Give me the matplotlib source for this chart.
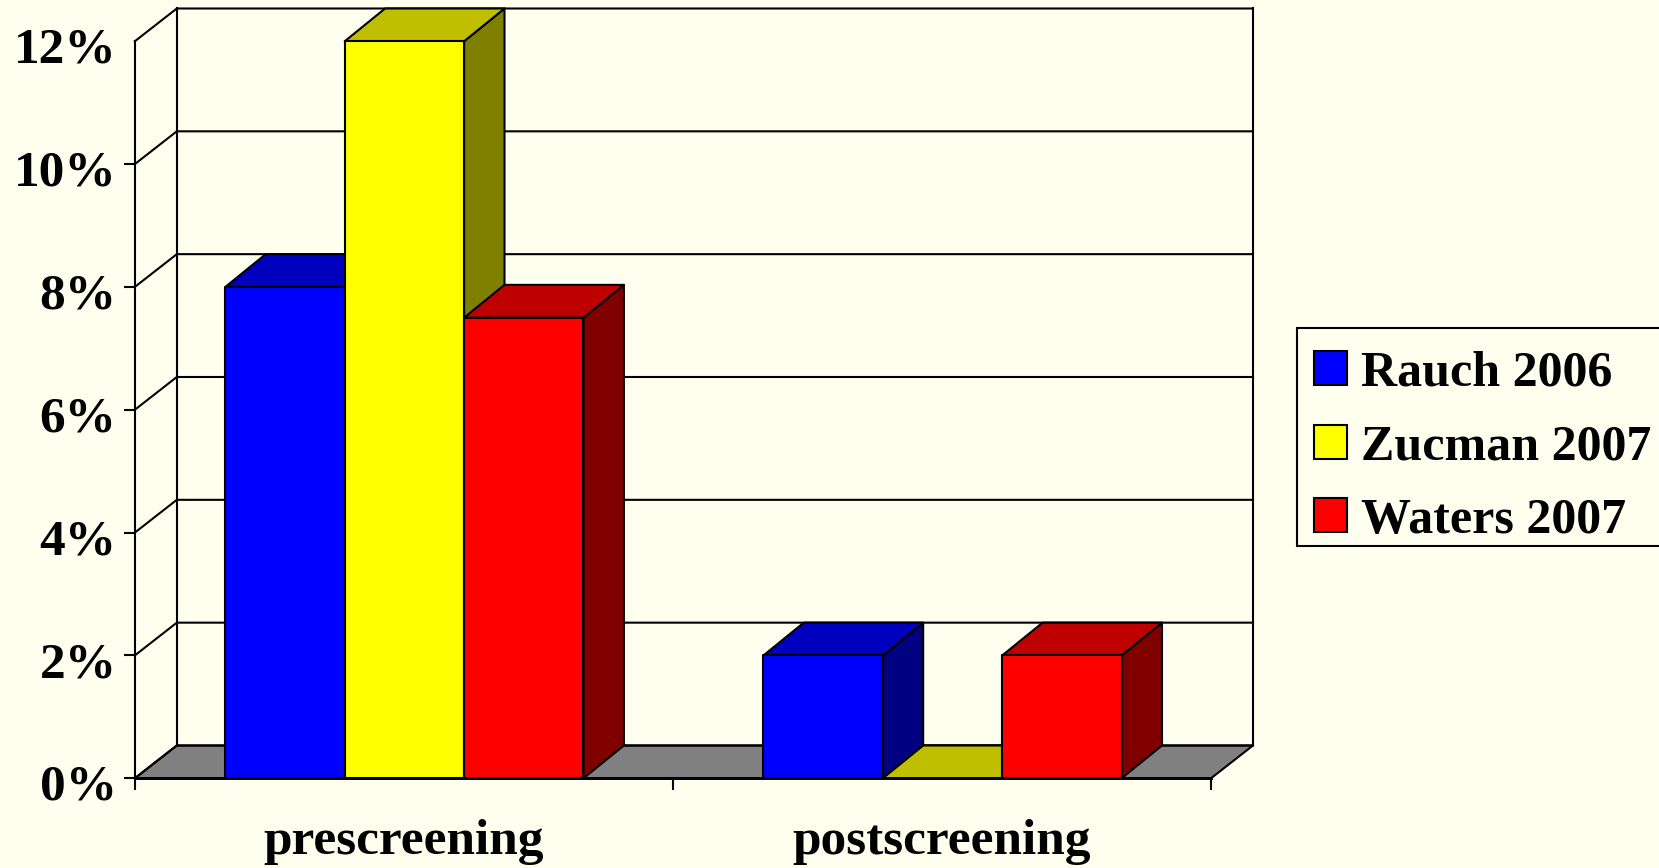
import matplotlib
matplotlib.use('Agg')
import matplotlib.pyplot as plt
from matplotlib.patches import Polygon, Patch, Rectangle
from matplotlib.transforms import ScaledTranslation

# Data
categories = ['prescreening', 'postscreening']
series_names = ['Rauch 2006', 'Zucman 2007', 'Waters 2007']
rauch = [8, 2]
zucman = [12, 0]
waters = [7.5, 2]
y_ticks = [0, 2, 4, 6, 8, 10, 12]
y_labels = ['0%', '2%', '4%', '6%', '8%', '10%', '12%']

# Colours: front, top, side
blues = ('#0000FF', '#0000BF', '#000080')
yellows = ('#FFFF00', '#BFBF00', '#808000')
reds = ('#FF0000', '#BF0000', '#800000')
bg = '#FFFFF0'

W, H = 1659, 868
LW = 1.5
FS = 37

plt.rcParams['font.family'] = ['Liberation Serif', 'DejaVu Serif']
plt.rcParams['font.weight'] = 'bold'

fig = plt.figure(figsize=(W / 100, H / 100), dpi=100, facecolor=bg)
ax = fig.add_axes([134.8 / W, (H - 778.3) / H, 1076.2 / W, 737 / H])
ax.set_xlim(0, 2)
ax.set_ylim(0, 12)
ax.patch.set_visible(False)

# Depth of the fake 3D box, in data units
wall_dx = 42 / 538.1
bar_dx = 40.4 / 538.1
dy = 32.8 / 61.4
bar_w = 119.4 / 538.1


def poly(pts, fc, z=2):
    ax.add_patch(Polygon(pts, closed=True, facecolor=fc, edgecolor='black',
                         linewidth=LW, clip_on=False, joinstyle='round', zorder=z))


def wall_line(xs, ys):
    ax.plot(xs, ys, color='black', lw=LW, clip_on=False, zorder=1)


# Floor and walls
poly([(0, 0), (2, 0), (2 + wall_dx, dy), (wall_dx, dy)], '#808080', z=1)
for t in y_ticks:
    wall_line([0, wall_dx, 2 + wall_dx], [t, t + dy, t + dy])
wall_line([wall_dx, wall_dx], [dy, 12 + dy])
wall_line([2 + wall_dx, 2 + wall_dx], [dy, 12 + dy])


def bar3d(x, h, cols):
    front, top, side = cols
    r = x + bar_w
    if h > 0:
        poly([(r, 0), (r + bar_dx, dy), (r + bar_dx, h + dy), (r, h)], side, z=3)
    poly([(x, h), (r, h), (r + bar_dx, h + dy), (x + bar_dx, h + dy)], top, z=3)
    if h > 0:
        poly([(x, 0), (r, 0), (r, h), (x, h)], front, z=3)


for g in range(len(categories)):
    left = g + 0.5 - 1.5 * bar_w + 0.001
    bar3d(left, rauch[g], blues)
    bar3d(left + bar_w, zucman[g], yellows)
    bar3d(left + 2 * bar_w, waters[g], reds)

# Axes
for s in ['top', 'right']:
    ax.spines[s].set_visible(False)
ax.spines['left'].set_linewidth(LW)
ax.spines['bottom'].set_linewidth(LW * 1.4)
ax.spines['left'].set_zorder(5)
ax.spines['bottom'].set_zorder(5)

ax.set_yticks(y_ticks)
ax.set_yticklabels(y_labels, fontsize=FS, fontweight='bold')
ax.tick_params(axis='y', length=8, width=LW, pad=5)
ax.yaxis.get_major_ticks()[-1].tick1line.set_visible(False)
# labels sit a little below their ticks in the original
for lbl in ax.get_yticklabels():
    lbl.set_transform(lbl.get_transform() + ScaledTranslation(0, -3 / 72, fig.dpi_scale_trans))

ax.set_xticks([0, 1, 2])
ax.set_xticklabels([])
ax.set_xticks([0.5, 1.5], minor=True)
ax.set_xticklabels(categories, minor=True, fontsize=FS, fontweight='bold')
ax.tick_params(axis='x', which='major', length=8.5, width=LW)
ax.tick_params(axis='x', which='minor', length=0, pad=29)

# Legend box runs off the right edge of the picture, drawn apart from the rows
fig.add_artist(Rectangle((1297.3 / W, (H - 545.7) / H), 420 / W, 218 / H,
                         transform=fig.transFigure, facecolor=bg, edgecolor='black', linewidth=LW))
handles = [Patch(facecolor=c[0], edgecolor='black', linewidth=LW) for c in (blues, yellows, reds)]
leg = fig.legend(handles, series_names, loc='upper left',
                 bbox_to_anchor=(1313.5 / W, (H - 351) / H),
                 bbox_transform=fig.transFigure, borderaxespad=0, fontsize=36,
                 frameon=False, handlelength=0.67, handleheight=0.67, handletextpad=0.28,
                 borderpad=0, labelspacing=0.55)

fig.savefig('out.png', dpi=100, facecolor=bg)
